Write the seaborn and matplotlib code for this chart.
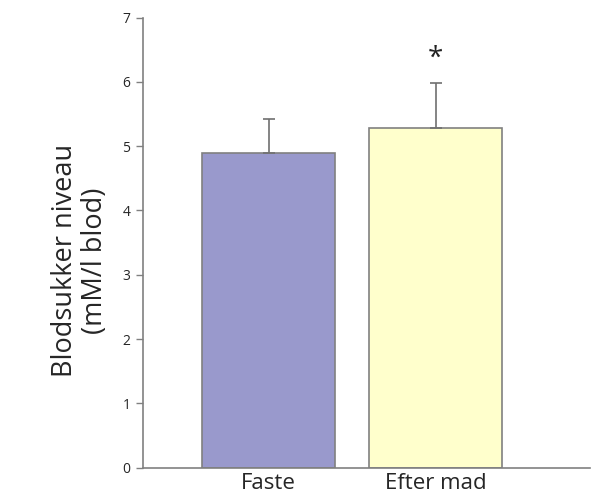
import matplotlib
matplotlib.use("Agg")
import matplotlib.pyplot as plt
import seaborn as sns
import pandas as pd
import numpy as np

categories = ["Faste", "Efter mad"]
values = [4.9, 5.28]
errors = [0.52, 0.70]
colors = ["#9999CC", "#FFFFCC"]

sns.set_style("white")
plt.rcParams['font.family'] = ['Open Sans', 'DejaVu Sans']

fig = plt.figure(figsize=(5.94, 4.97), dpi=100)
ax = fig.add_axes([0.2407, 0.059, 0.7523, 0.9056])

df = pd.DataFrame({"cat": categories, "val": values})
sns.barplot(data=df, x="cat", y="val", hue="cat", palette=colors, legend=False,
            saturation=1, width=0.794, edgecolor="#808080", linewidth=1.2, ax=ax,
            errorbar=None)

xs = np.arange(len(categories))
ax.errorbar(xs, values, yerr=[np.zeros(len(errors)), errors], fmt="none",
            ecolor="#707070", elinewidth=1.2, capsize=4, capthick=1.2)

ax.text(1, values[1] + errors[1] + 0.38, "*", ha="center", va="center", fontsize=20,
        color="#222222")

ax.set_ylim(0, 7)
ax.set_xlim(-0.75, 1.92)
ax.set_yticks(range(0, 8))
ax.set_yticklabels([str(i) for i in range(0, 8)], fontsize=10)
ax.tick_params(axis="y", left=True, length=5, width=1, color="#808080", pad=4)
ax.tick_params(axis="x", bottom=False, labelsize=16, pad=0)
ax.set_xlabel("")
ax.set_ylabel("Blodsukker niveau\n(mM/l blod)", fontsize=19.5, linespacing=1.1)
ax.yaxis.set_label_coords(-0.075, 0.46)

for s in ["top", "right"]:
    ax.spines[s].set_visible(False)
for s in ["left", "bottom"]:
    ax.spines[s].set_color("#808080")
    ax.spines[s].set_linewidth(1.2)

fig.savefig("out.png", dpi=100)
